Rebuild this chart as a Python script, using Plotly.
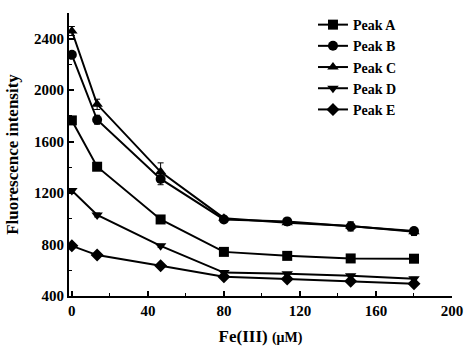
import plotly.graph_objects as go

fe = [0, 13.3, 46.7, 80, 113.3, 146.7, 180]
peak_a = [1765, 1405, 995, 743, 712, 692, 690]
peak_b = [2275, 1770, 1310, 995, 980, 940, 905]
peak_c = [2460, 1890, 1365, 1005, 970, 945, 900]
peak_d = [1220, 1030, 790, 582, 572, 558, 535]
peak_e = [790, 718, 635, 550, 532, 515, 495]
err_a = [15, 15, 15, 12, 10, 10, 10]
err_b = [20, 35, 45, 15, 20, 35, 25]
err_c = [35, 40, 70, 15, 20, 30, 30]
err_d = [15, 15, 12, 10, 10, 10, 10]
err_e = [10, 10, 10, 10, 10, 10, 10]

series = [
    ("Peak A", peak_a, err_a, "square"),
    ("Peak B", peak_b, err_b, "circle"),
    ("Peak C", peak_c, err_c, "triangle-up"),
    ("Peak D", peak_d, err_d, "triangle-down"),
    ("Peak E", peak_e, err_e, "diamond"),
]

fig = go.Figure()
for name, ys, es, sym in series:
    fig.add_trace(go.Scatter(
        x=fe, y=ys, name=name, mode="lines+markers",
        line=dict(color="black", width=2),
        marker=dict(symbol=sym, size=10, color="black"),
        error_y=dict(type="data", array=es, color="black", thickness=1, width=3),
    ))

font = "Liberation Serif, Times New Roman, serif"
fig.update_layout(
    width=466, height=346,
    margin=dict(l=69, r=14, t=9, b=50),
    paper_bgcolor="white", plot_bgcolor="white",
    font=dict(family=font, size=15, color="black"),
    showlegend=True,
    legend=dict(x=0.637, y=1.014, xanchor="left", yanchor="top",
                font=dict(family=font, size=14, color="black", weight="bold"),
                bgcolor="rgba(0,0,0,0)", itemwidth=30, tracegroupgap=0),
    xaxis=dict(range=[-1.5, 200], showline=True, linecolor="black", linewidth=2,
               automargin=False,
               ticks="inside", tickcolor="black", ticklen=5, tickwidth=2,
               tickvals=[0, 40, 80, 120, 160, 200],
               minor=dict(tickvals=[20, 60, 100, 140, 180], ticks="inside", ticklen=3, tickcolor="black", tickwidth=1),
               showgrid=False, zeroline=False,
               tickfont=dict(family=font, size=15, weight="bold"),
               title=dict(text="<b>Fe(III) </b><b><span style='font-size:14px'>(μM)</span></b>",
                          font=dict(family=font, size=17), standoff=13)),
    yaxis=dict(range=[400, 2600], showline=True, linecolor="black", linewidth=2,
               automargin=False,
               ticks="inside", tickcolor="black", ticklen=5, tickwidth=2,
               tickvals=[400, 800, 1200, 1600, 2000, 2400],
               minor=dict(tickvals=[600, 1000, 1400, 1800, 2200], ticks="inside", ticklen=3, tickcolor="black", tickwidth=1),
               showgrid=False, zeroline=False,
               tickfont=dict(family=font, size=15, weight="bold"),
               title=dict(text="<b>Fluorescence intensity</b>",
                          font=dict(family=font, size=17), standoff=11)),
)

fig.write_html("out.html",
               config={"displayModeBar": False},
               post_script="document.body.style.margin='0';document.body.style.overflow='hidden';")
